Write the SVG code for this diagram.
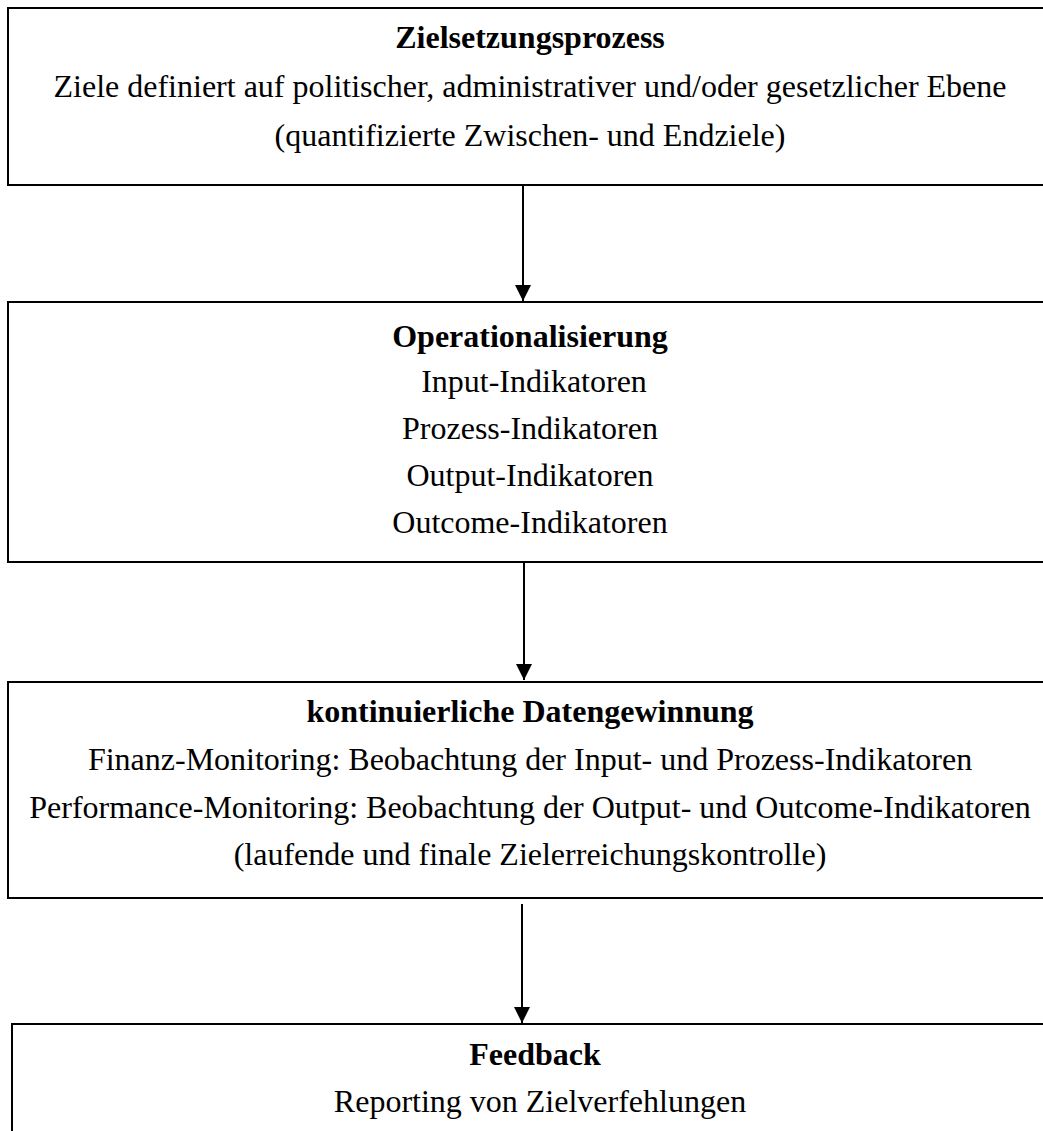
<svg xmlns="http://www.w3.org/2000/svg" width="1043" height="1131" viewBox="0 0 1043 1131">
<style>
.box{fill:#fff;stroke:#000;stroke-width:2}
.t{font-family:"Liberation Serif","Times New Roman",serif;font-size:32px;fill:#000;text-anchor:middle}
.b{font-weight:bold}
.c{stroke:#000;stroke-width:2;fill:none}
</style>
<defs>
<marker id="ah" markerUnits="userSpaceOnUse" markerWidth="16" markerHeight="16" viewBox="0 0 16 16" refX="16" refY="8" orient="auto">
<path d="M0,0 L16,8 L0,16 Z" fill="#000"/>
</marker>
</defs>
<rect width="1043" height="1131" fill="#fff"/>
<g id="node-ziel">
<rect class="box" x="8" y="8" width="1045" height="177"/>
<text class="t b" x="530" y="48">Zielsetzungsprozess</text>
<text class="t" x="530" y="97">Ziele definiert auf politischer, administrativer und/oder gesetzlicher Ebene</text>
<text class="t" x="530" y="146">(quantifizierte Zwischen- und Endziele)</text>
</g>
<g id="node-operationalisierung">
<rect class="box" x="8" y="302" width="1045" height="260"/>
<text class="t b" x="530" y="347">Operationalisierung</text>
<text class="t" x="534" y="392">Input-Indikatoren</text>
<text class="t" x="530" y="439">Prozess-Indikatoren</text>
<text class="t" x="530" y="486">Output-Indikatoren</text>
<text class="t" x="530" y="533">Outcome-Indikatoren</text>
</g>
<g id="node-daten">
<rect class="box" x="8" y="682" width="1045" height="216"/>
<text class="t b" x="530" y="722">kontinuierliche Datengewinnung</text>
<text class="t" x="530" y="770">Finanz-Monitoring: Beobachtung der Input- und Prozess-Indikatoren</text>
<text class="t" x="530" y="818">Performance-Monitoring: Beobachtung der Output- und Outcome-Indikatoren</text>
<text class="t" x="530" y="865">(laufende und finale Zielerreichungskontrolle)</text>
</g>
<g id="node-feedback">
<rect class="box" x="12" y="1024" width="1045" height="120"/>
<text class="t b" x="535" y="1065">Feedback</text>
<text class="t" x="540" y="1112">Reporting von Zielverfehlungen</text>
</g>
<g id="connectors">
<line class="c" x1="523" y1="185" x2="523" y2="301" marker-end="url(#ah)"/>
<line class="c" x1="524" y1="562" x2="524" y2="680" marker-end="url(#ah)"/>
<line class="c" x1="522" y1="904" x2="522" y2="1023" marker-end="url(#ah)"/>
</g>
</svg>
